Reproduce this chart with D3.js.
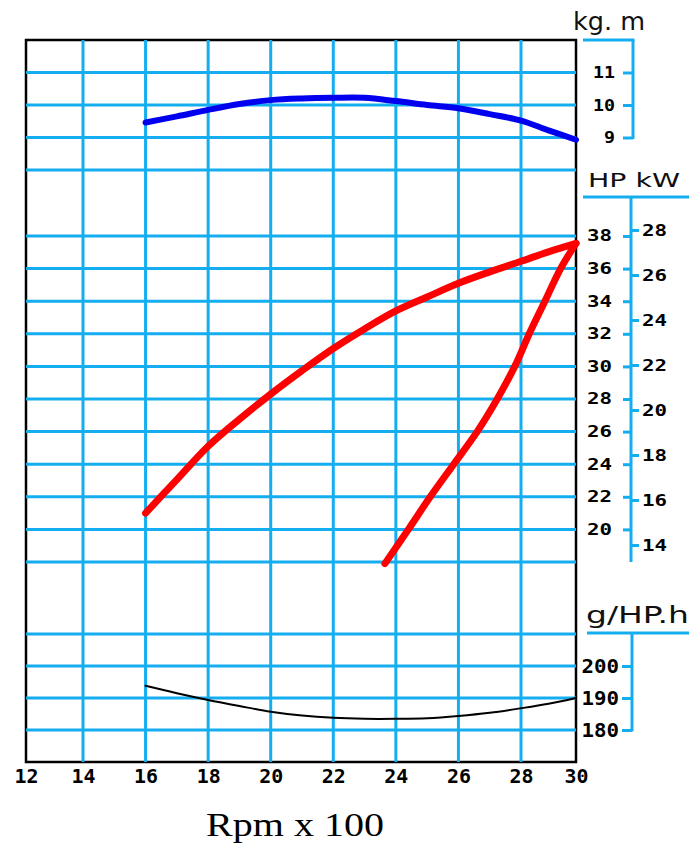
<!DOCTYPE html>
<html>
<head>
<meta charset="utf-8">
<script src="https://cdn.jsdelivr.net/npm/d3@7"></script>
<style>
  html, body { margin: 0; padding: 0; background: #fff; }
</style>
</head>
<body>
<div id="grafica"></div>
<script>
const rpmTicks = [12, 14, 16, 18, 20, 22, 24, 26, 28, 30];
const rpmGrid = [14, 16, 18, 20, 22, 24, 26, 28];

// Par motor (kg.m)
const parRpm = [16, 17, 18, 19, 20, 21, 22, 23, 24, 25, 26, 27, 28, 29, 30];
const parKgm = [9.46, 9.65, 9.85, 10.03, 10.15, 10.2, 10.22, 10.22, 10.12, 10.0, 9.9, 9.72, 9.52, 9.22, 8.93];

// Potencia (HP)
const potRpm = [16, 17, 18, 19, 20, 21, 22, 23, 24, 25, 26, 27, 28, 29, 30];
const potHp = [21.0, 23.06, 25.1, 26.76, 28.3, 29.74, 31.1, 32.3, 33.4, 34.26, 35.1, 35.8, 36.45, 37.03, 37.55];

// Curva de helice (HP)
const heliceRpm = [23.65, 24.4, 25.1, 25.85, 26.6, 27.24, 27.8, 28.3, 28.87, 29.44, 30];
const heliceHp = [17.9, 20, 22, 24, 26, 28, 30, 32, 34, 36, 37.55];

// Consumo especifico (g/HP.h)
const consumoRpm = [16, 17, 18, 19, 20, 21, 22, 23, 24, 25, 26, 27, 28, 29, 30];
const consumoGhp = [193.8, 191.5, 189.4, 187.5, 185.7, 184.5, 183.8, 183.5, 183.5, 183.7, 184.4, 185.4, 186.8, 188.2, 190];

// Etiquetas de los ejes derechos
const kgmTicks = [11, 10, 9];
const kgmGrid = [11, 10, 9, 8];
const hpTicks = [38, 36, 34, 32, 30, 28, 26, 24, 22, 20];
const hpGrid = [38, 36, 34, 32, 30, 28, 26, 24, 22, 20, 18];
const kwTicks = [28, 26, 24, 22, 20, 18, 16, 14];
const gTicks = [200, 190, 180];
const gGrid = [210, 200, 190, 180];

// 1. Lienzo
const W = 699, H = 843;
const svg = d3.select("#grafica")
    .append("svg")
    .attr("width", W)
    .attr("height", H);

const azul = "#14aef0";
const fuenteNum = "'DejaVu Sans Mono', monospace";
const entero = d3.format("d");

// 2. Escalas
const x = d3.scaleLinear()
    .domain([12, 14, 28, 30])
    .range([26, 83, 521, 576]);
const yKg = d3.scaleLinear().domain([12, 8]).range([40, 170]);
const yHp = d3.scaleLinear().domain([38, 18]).range([236, 562]);
const yKw = d3.scaleLinear().domain([28, 14]).range([230, 545]);
const yG = d3.scaleLinear().domain([210, 170]).range([634, 762]);

const bordeIzq = x(12), bordeDer = x(30), bordeSup = 40, bordeInf = 762;

// 3. Marco
svg.append("rect")
    .attr("x", bordeIzq)
    .attr("y", bordeSup)
    .attr("width", bordeDer - bordeIzq)
    .attr("height", bordeInf - bordeSup)
    .attr("fill", "none")
    .attr("stroke", "#000")
    .attr("stroke-width", 2.5);

// 4. Rejilla
const grid = svg.append("g")
    .attr("stroke", azul)
    .attr("stroke-width", 3);

grid.selectAll(".v")
    .data(rpmGrid)
    .join("line")
    .attr("x1", d => x(d)).attr("x2", d => x(d))
    .attr("y1", bordeSup).attr("y2", bordeInf);

const filas = [
    ...kgmGrid.map(d => yKg(d)),
    ...hpGrid.map(d => yHp(d)),
    ...gGrid.map(d => yG(d))
];
grid.selectAll(".h")
    .data(filas)
    .join("line")
    .attr("x1", bordeIzq).attr("x2", bordeDer)
    .attr("y1", d => d).attr("y2", d => d);

// 5. Eje X
const ejeX = svg.append("g")
    .attr("transform", `translate(0,${bordeInf})`)
    .call(d3.axisBottom(x).tickValues(rpmTicks).tickFormat(entero).tickSize(0).tickPadding(8));
ejeX.select(".domain").remove();
ejeX.selectAll("text")
    .attr("font-family", fuenteNum)
    .attr("font-weight", "bold")
    .attr("font-size", 19)
    .attr("fill", "#000")
    .attr("textLength", 24)
    .attr("lengthAdjust", "spacingAndGlyphs");

svg.append("text")
    .attr("x", 295)
    .attr("y", 836)
    .attr("text-anchor", "middle")
    .attr("font-family", "'Liberation Serif', 'Times New Roman', serif")
    .attr("font-size", 34)
    .attr("textLength", 178)
    .attr("lengthAdjust", "spacingAndGlyphs")
    .text("Rpm x 100");

// helper para estilizar ejes derechos
function estilo(g, size, charW) {
    g.select(".domain").remove();
    g.selectAll(".tick line").attr("stroke", azul).attr("stroke-width", 3);
    g.selectAll("text")
        .attr("font-family", fuenteNum)
        .attr("font-weight", "bold")
        .attr("font-size", size)
        .attr("fill", "#000")
        .attr("textLength", d => entero(d).length * charW)
        .attr("lengthAdjust", "spacingAndGlyphs");
}

const unidad = (txt, x0, y0, size, len) => svg.append("text")
    .attr("x", x0).attr("y", y0)
    .attr("font-family", "'DejaVu Sans', sans-serif")
    .attr("font-size", size)
    .attr("fill", "#111")
    .attr("textLength", len)
    .attr("lengthAdjust", "spacingAndGlyphs")
    .text(txt);

const linea = (x1, y1, x2, y2) => svg.append("line")
    .attr("x1", x1).attr("y1", y1).attr("x2", x2).attr("y2", y2)
    .attr("stroke", azul).attr("stroke-width", 3);

// 6. Eje kg.m
unidad("kg. m", 573, 30, 24, 72);
linea(583, yKg(12), 634.5, yKg(12));
linea(633, yKg(12), 633, yKg(9) + 1.5);
const ejeKg = svg.append("g")
    .attr("transform", "translate(633,0)")
    .call(d3.axisLeft(yKg).tickValues(kgmTicks).tickFormat(entero).tickSize(10).tickPadding(8));
estilo(ejeKg, 16, 11);

// 7. Ejes HP y kW
unidad("HP kW", 588, 187, 19, 92);
linea(583, 197, 689, 197);
linea(631, 197, 631, 562);
const ejeHp = svg.append("g")
    .attr("transform", "translate(631,0)")
    .call(d3.axisLeft(yHp).tickValues(hpTicks).tickFormat(entero).tickSize(8).tickPadding(11));
estilo(ejeHp, 15, 12.5);
const ejeKw = svg.append("g")
    .attr("transform", "translate(631,0)")
    .call(d3.axisRight(yKw).tickValues(kwTicks).tickFormat(entero).tickSize(8).tickPadding(3));
estilo(ejeKw, 16, 12.5);

// 8. Eje g/HP.h
unidad("g/HP.h", 586, 623, 23, 103);
linea(587, 633, 689, 633);
linea(632, 633, 632, yG(180) + 1.5);
const ejeG = svg.append("g")
    .attr("transform", "translate(632,0)")
    .call(d3.axisLeft(yG).tickValues(gTicks).tickFormat(entero).tickSize(10).tickPadding(3));
estilo(ejeG, 19, 12.5);

// 9. Curvas
function curva(xs, ys, escY, color, ancho) {
    const pts = xs.map((d, i) => [d, ys[i]]);
    svg.append("path")
        .datum(pts)
        .attr("fill", "none")
        .attr("stroke", color)
        .attr("stroke-width", ancho)
        .attr("stroke-linecap", "round")
        .attr("stroke-linejoin", "round")
        .attr("d", d3.line()
            .x(d => x(d[0]))
            .y(d => escY(d[1]))
            .curve(d3.curveCatmullRom.alpha(0.5)));
}

curva(parRpm, parKgm, yKg, "#0000ee", 6);
curva(potRpm, potHp, yHp, "#ff0000", 7);
curva(heliceRpm, heliceHp, yHp, "#ff0000", 7);
curva(consumoRpm, consumoGhp, yG, "#000", 2);
</script>
</body>
</html>
